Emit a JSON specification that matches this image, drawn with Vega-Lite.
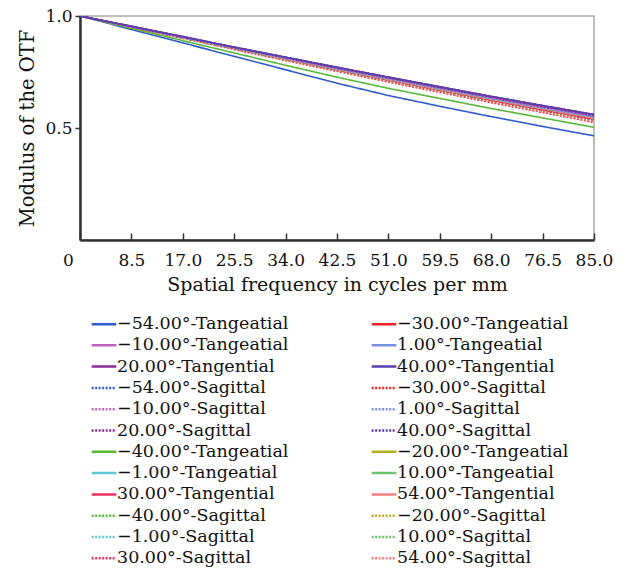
{
  "$schema": "https://vega.github.io/schema/vega-lite/v6.json",
  "width": 514,
  "height": 224,
  "autosize": {"type": "none"},
  "padding": {"left": 80, "top": 16, "right": 35, "bottom": 331},
  "background": "white",
  "config": {"font": "DejaVu Serif", "view": {"stroke": "#a8a8a8", "strokeWidth": 1.5}},
  "data": {"values": [
    {"s":"−54.00°-Tangeatial","f":0,"m":1},{"s":"−54.00°-Tangeatial","f":8.5,"m":0.940},{"s":"−54.00°-Tangeatial","f":17,"m":0.880},{"s":"−54.00°-Tangeatial","f":25.5,"m":0.820},{"s":"−54.00°-Tangeatial","f":34,"m":0.760},{"s":"−54.00°-Tangeatial","f":42.5,"m":0.700},{"s":"−54.00°-Tangeatial","f":51,"m":0.645},{"s":"−54.00°-Tangeatial","f":59.5,"m":0.597},{"s":"−54.00°-Tangeatial","f":68,"m":0.551},{"s":"−54.00°-Tangeatial","f":76.5,"m":0.507},{"s":"−54.00°-Tangeatial","f":85,"m":0.465},
    {"s":"−40.00°-Tangeatial","f":0,"m":1},{"s":"−40.00°-Tangeatial","f":8.5,"m":0.945},{"s":"−40.00°-Tangeatial","f":17,"m":0.890},{"s":"−40.00°-Tangeatial","f":25.5,"m":0.835},{"s":"−40.00°-Tangeatial","f":34,"m":0.780},{"s":"−40.00°-Tangeatial","f":42.5,"m":0.727},{"s":"−40.00°-Tangeatial","f":51,"m":0.677},{"s":"−40.00°-Tangeatial","f":59.5,"m":0.632},{"s":"−40.00°-Tangeatial","f":68,"m":0.587},{"s":"−40.00°-Tangeatial","f":76.5,"m":0.545},{"s":"−40.00°-Tangeatial","f":85,"m":0.503},
    {"s":"−30.00°-Sagittal","f":0,"m":1},{"s":"−30.00°-Sagittal","f":8.5,"m":0.950},{"s":"−30.00°-Sagittal","f":17,"m":0.900},{"s":"−30.00°-Sagittal","f":25.5,"m":0.850},{"s":"−30.00°-Sagittal","f":34,"m":0.801},{"s":"−30.00°-Sagittal","f":42.5,"m":0.753},{"s":"−30.00°-Sagittal","f":51,"m":0.705},{"s":"−30.00°-Sagittal","f":59.5,"m":0.659},{"s":"−30.00°-Sagittal","f":68,"m":0.613},{"s":"−30.00°-Sagittal","f":76.5,"m":0.569},{"s":"−30.00°-Sagittal","f":85,"m":0.525},
    {"s":"54.00°-Sagittal","f":0,"m":1},{"s":"54.00°-Sagittal","f":8.5,"m":0.951},{"s":"54.00°-Sagittal","f":17,"m":0.901},{"s":"54.00°-Sagittal","f":25.5,"m":0.852},{"s":"54.00°-Sagittal","f":34,"m":0.804},{"s":"54.00°-Sagittal","f":42.5,"m":0.756},{"s":"54.00°-Sagittal","f":51,"m":0.709},{"s":"54.00°-Sagittal","f":59.5,"m":0.663},{"s":"54.00°-Sagittal","f":68,"m":0.617},{"s":"54.00°-Sagittal","f":76.5,"m":0.573},{"s":"54.00°-Sagittal","f":85,"m":0.530},
    {"s":"−40.00°-Sagittal","f":0,"m":1},{"s":"−40.00°-Sagittal","f":8.5,"m":0.951},{"s":"−40.00°-Sagittal","f":17,"m":0.902},{"s":"−40.00°-Sagittal","f":25.5,"m":0.854},{"s":"−40.00°-Sagittal","f":34,"m":0.806},{"s":"−40.00°-Sagittal","f":42.5,"m":0.758},{"s":"−40.00°-Sagittal","f":51,"m":0.712},{"s":"−40.00°-Sagittal","f":59.5,"m":0.666},{"s":"−40.00°-Sagittal","f":68,"m":0.621},{"s":"−40.00°-Sagittal","f":76.5,"m":0.578},{"s":"−40.00°-Sagittal","f":85,"m":0.535},
    {"s":"30.00°-Sagittal","f":0,"m":1},{"s":"30.00°-Sagittal","f":8.5,"m":0.951},{"s":"30.00°-Sagittal","f":17,"m":0.902},{"s":"30.00°-Sagittal","f":25.5,"m":0.854},{"s":"30.00°-Sagittal","f":34,"m":0.806},{"s":"30.00°-Sagittal","f":42.5,"m":0.758},{"s":"30.00°-Sagittal","f":51,"m":0.712},{"s":"30.00°-Sagittal","f":59.5,"m":0.666},{"s":"30.00°-Sagittal","f":68,"m":0.621},{"s":"30.00°-Sagittal","f":76.5,"m":0.578},{"s":"30.00°-Sagittal","f":85,"m":0.535},
    {"s":"−30.00°-Tangeatial","f":0,"m":1},{"s":"−30.00°-Tangeatial","f":8.5,"m":0.952},{"s":"−30.00°-Tangeatial","f":17,"m":0.903},{"s":"−30.00°-Tangeatial","f":25.5,"m":0.855},{"s":"−30.00°-Tangeatial","f":34,"m":0.808},{"s":"−30.00°-Tangeatial","f":42.5,"m":0.761},{"s":"−30.00°-Tangeatial","f":51,"m":0.715},{"s":"−30.00°-Tangeatial","f":59.5,"m":0.670},{"s":"−30.00°-Tangeatial","f":68,"m":0.625},{"s":"−30.00°-Tangeatial","f":76.5,"m":0.582},{"s":"−30.00°-Tangeatial","f":85,"m":0.540},
    {"s":"−20.00°-Sagittal","f":0,"m":1},{"s":"−20.00°-Sagittal","f":8.5,"m":0.952},{"s":"−20.00°-Sagittal","f":17,"m":0.903},{"s":"−20.00°-Sagittal","f":25.5,"m":0.855},{"s":"−20.00°-Sagittal","f":34,"m":0.808},{"s":"−20.00°-Sagittal","f":42.5,"m":0.761},{"s":"−20.00°-Sagittal","f":51,"m":0.715},{"s":"−20.00°-Sagittal","f":59.5,"m":0.670},{"s":"−20.00°-Sagittal","f":68,"m":0.625},{"s":"−20.00°-Sagittal","f":76.5,"m":0.582},{"s":"−20.00°-Sagittal","f":85,"m":0.540},
    {"s":"10.00°-Sagittal","f":0,"m":1},{"s":"10.00°-Sagittal","f":8.5,"m":0.952},{"s":"10.00°-Sagittal","f":17,"m":0.903},{"s":"10.00°-Sagittal","f":25.5,"m":0.855},{"s":"10.00°-Sagittal","f":34,"m":0.808},{"s":"10.00°-Sagittal","f":42.5,"m":0.761},{"s":"10.00°-Sagittal","f":51,"m":0.715},{"s":"10.00°-Sagittal","f":59.5,"m":0.670},{"s":"10.00°-Sagittal","f":68,"m":0.625},{"s":"10.00°-Sagittal","f":76.5,"m":0.582},{"s":"10.00°-Sagittal","f":85,"m":0.540},
    {"s":"30.00°-Tangential","f":0,"m":1},{"s":"30.00°-Tangential","f":8.5,"m":0.952},{"s":"30.00°-Tangential","f":17,"m":0.903},{"s":"30.00°-Tangential","f":25.5,"m":0.855},{"s":"30.00°-Tangential","f":34,"m":0.808},{"s":"30.00°-Tangential","f":42.5,"m":0.761},{"s":"30.00°-Tangential","f":51,"m":0.715},{"s":"30.00°-Tangential","f":59.5,"m":0.670},{"s":"30.00°-Tangential","f":68,"m":0.625},{"s":"30.00°-Tangential","f":76.5,"m":0.582},{"s":"30.00°-Tangential","f":85,"m":0.540},
    {"s":"−20.00°-Tangeatial","f":0,"m":1},{"s":"−20.00°-Tangeatial","f":8.5,"m":0.952},{"s":"−20.00°-Tangeatial","f":17,"m":0.904},{"s":"−20.00°-Tangeatial","f":25.5,"m":0.857},{"s":"−20.00°-Tangeatial","f":34,"m":0.810},{"s":"−20.00°-Tangeatial","f":42.5,"m":0.763},{"s":"−20.00°-Tangeatial","f":51,"m":0.718},{"s":"−20.00°-Tangeatial","f":59.5,"m":0.673},{"s":"−20.00°-Tangeatial","f":68,"m":0.629},{"s":"−20.00°-Tangeatial","f":76.5,"m":0.587},{"s":"−20.00°-Tangeatial","f":85,"m":0.545},
    {"s":"−1.00°-Sagittal","f":0,"m":1},{"s":"−1.00°-Sagittal","f":8.5,"m":0.952},{"s":"−1.00°-Sagittal","f":17,"m":0.904},{"s":"−1.00°-Sagittal","f":25.5,"m":0.857},{"s":"−1.00°-Sagittal","f":34,"m":0.810},{"s":"−1.00°-Sagittal","f":42.5,"m":0.763},{"s":"−1.00°-Sagittal","f":51,"m":0.718},{"s":"−1.00°-Sagittal","f":59.5,"m":0.673},{"s":"−1.00°-Sagittal","f":68,"m":0.629},{"s":"−1.00°-Sagittal","f":76.5,"m":0.587},{"s":"−1.00°-Sagittal","f":85,"m":0.545},
    {"s":"1.00°-Sagittal","f":0,"m":1},{"s":"1.00°-Sagittal","f":8.5,"m":0.952},{"s":"1.00°-Sagittal","f":17,"m":0.904},{"s":"1.00°-Sagittal","f":25.5,"m":0.857},{"s":"1.00°-Sagittal","f":34,"m":0.810},{"s":"1.00°-Sagittal","f":42.5,"m":0.763},{"s":"1.00°-Sagittal","f":51,"m":0.718},{"s":"1.00°-Sagittal","f":59.5,"m":0.673},{"s":"1.00°-Sagittal","f":68,"m":0.629},{"s":"1.00°-Sagittal","f":76.5,"m":0.587},{"s":"1.00°-Sagittal","f":85,"m":0.545},
    {"s":"10.00°-Tangeatial","f":0,"m":1},{"s":"10.00°-Tangeatial","f":8.5,"m":0.952},{"s":"10.00°-Tangeatial","f":17,"m":0.904},{"s":"10.00°-Tangeatial","f":25.5,"m":0.857},{"s":"10.00°-Tangeatial","f":34,"m":0.810},{"s":"10.00°-Tangeatial","f":42.5,"m":0.763},{"s":"10.00°-Tangeatial","f":51,"m":0.718},{"s":"10.00°-Tangeatial","f":59.5,"m":0.673},{"s":"10.00°-Tangeatial","f":68,"m":0.629},{"s":"10.00°-Tangeatial","f":76.5,"m":0.587},{"s":"10.00°-Tangeatial","f":85,"m":0.545},
    {"s":"54.00°-Tangential","f":0,"m":1},{"s":"54.00°-Tangential","f":8.5,"m":0.952},{"s":"54.00°-Tangential","f":17,"m":0.904},{"s":"54.00°-Tangential","f":25.5,"m":0.857},{"s":"54.00°-Tangential","f":34,"m":0.810},{"s":"54.00°-Tangential","f":42.5,"m":0.763},{"s":"54.00°-Tangential","f":51,"m":0.718},{"s":"54.00°-Tangential","f":59.5,"m":0.673},{"s":"54.00°-Tangential","f":68,"m":0.629},{"s":"54.00°-Tangential","f":76.5,"m":0.587},{"s":"54.00°-Tangential","f":85,"m":0.545},
    {"s":"−54.00°-Sagittal","f":0,"m":1},{"s":"−54.00°-Sagittal","f":8.5,"m":0.953},{"s":"−54.00°-Sagittal","f":17,"m":0.905},{"s":"−54.00°-Sagittal","f":25.5,"m":0.858},{"s":"−54.00°-Sagittal","f":34,"m":0.812},{"s":"−54.00°-Sagittal","f":42.5,"m":0.766},{"s":"−54.00°-Sagittal","f":51,"m":0.721},{"s":"−54.00°-Sagittal","f":59.5,"m":0.677},{"s":"−54.00°-Sagittal","f":68,"m":0.633},{"s":"−54.00°-Sagittal","f":76.5,"m":0.591},{"s":"−54.00°-Sagittal","f":85,"m":0.550},
    {"s":"−10.00°-Sagittal","f":0,"m":1},{"s":"−10.00°-Sagittal","f":8.5,"m":0.953},{"s":"−10.00°-Sagittal","f":17,"m":0.905},{"s":"−10.00°-Sagittal","f":25.5,"m":0.858},{"s":"−10.00°-Sagittal","f":34,"m":0.812},{"s":"−10.00°-Sagittal","f":42.5,"m":0.766},{"s":"−10.00°-Sagittal","f":51,"m":0.721},{"s":"−10.00°-Sagittal","f":59.5,"m":0.677},{"s":"−10.00°-Sagittal","f":68,"m":0.633},{"s":"−10.00°-Sagittal","f":76.5,"m":0.591},{"s":"−10.00°-Sagittal","f":85,"m":0.550},
    {"s":"−1.00°-Tangeatial","f":0,"m":1},{"s":"−1.00°-Tangeatial","f":8.5,"m":0.953},{"s":"−1.00°-Tangeatial","f":17,"m":0.905},{"s":"−1.00°-Tangeatial","f":25.5,"m":0.858},{"s":"−1.00°-Tangeatial","f":34,"m":0.812},{"s":"−1.00°-Tangeatial","f":42.5,"m":0.766},{"s":"−1.00°-Tangeatial","f":51,"m":0.721},{"s":"−1.00°-Tangeatial","f":59.5,"m":0.677},{"s":"−1.00°-Tangeatial","f":68,"m":0.633},{"s":"−1.00°-Tangeatial","f":76.5,"m":0.591},{"s":"−1.00°-Tangeatial","f":85,"m":0.550},
    {"s":"1.00°-Tangeatial","f":0,"m":1},{"s":"1.00°-Tangeatial","f":8.5,"m":0.953},{"s":"1.00°-Tangeatial","f":17,"m":0.905},{"s":"1.00°-Tangeatial","f":25.5,"m":0.858},{"s":"1.00°-Tangeatial","f":34,"m":0.812},{"s":"1.00°-Tangeatial","f":42.5,"m":0.766},{"s":"1.00°-Tangeatial","f":51,"m":0.721},{"s":"1.00°-Tangeatial","f":59.5,"m":0.677},{"s":"1.00°-Tangeatial","f":68,"m":0.633},{"s":"1.00°-Tangeatial","f":76.5,"m":0.591},{"s":"1.00°-Tangeatial","f":85,"m":0.550},
    {"s":"−10.00°-Tangeatial","f":0,"m":1},{"s":"−10.00°-Tangeatial","f":8.5,"m":0.953},{"s":"−10.00°-Tangeatial","f":17,"m":0.906},{"s":"−10.00°-Tangeatial","f":25.5,"m":0.860},{"s":"−10.00°-Tangeatial","f":34,"m":0.814},{"s":"−10.00°-Tangeatial","f":42.5,"m":0.768},{"s":"−10.00°-Tangeatial","f":51,"m":0.724},{"s":"−10.00°-Tangeatial","f":59.5,"m":0.680},{"s":"−10.00°-Tangeatial","f":68,"m":0.637},{"s":"−10.00°-Tangeatial","f":76.5,"m":0.595},{"s":"−10.00°-Tangeatial","f":85,"m":0.555},
    {"s":"20.00°-Sagittal","f":0,"m":1},{"s":"20.00°-Sagittal","f":8.5,"m":0.953},{"s":"20.00°-Sagittal","f":17,"m":0.906},{"s":"20.00°-Sagittal","f":25.5,"m":0.860},{"s":"20.00°-Sagittal","f":34,"m":0.814},{"s":"20.00°-Sagittal","f":42.5,"m":0.768},{"s":"20.00°-Sagittal","f":51,"m":0.724},{"s":"20.00°-Sagittal","f":59.5,"m":0.680},{"s":"20.00°-Sagittal","f":68,"m":0.637},{"s":"20.00°-Sagittal","f":76.5,"m":0.595},{"s":"20.00°-Sagittal","f":85,"m":0.555},
    {"s":"20.00°-Tangential","f":0,"m":1},{"s":"20.00°-Tangential","f":8.5,"m":0.954},{"s":"20.00°-Tangential","f":17,"m":0.908},{"s":"20.00°-Tangential","f":25.5,"m":0.861},{"s":"20.00°-Tangential","f":34,"m":0.816},{"s":"20.00°-Tangential","f":42.5,"m":0.771},{"s":"20.00°-Tangential","f":51,"m":0.727},{"s":"20.00°-Tangential","f":59.5,"m":0.684},{"s":"20.00°-Tangential","f":68,"m":0.641},{"s":"20.00°-Tangential","f":76.5,"m":0.600},{"s":"20.00°-Tangential","f":85,"m":0.560},
    {"s":"40.00°-Tangential","f":0,"m":1},{"s":"40.00°-Tangential","f":8.5,"m":0.954},{"s":"40.00°-Tangential","f":17,"m":0.908},{"s":"40.00°-Tangential","f":25.5,"m":0.861},{"s":"40.00°-Tangential","f":34,"m":0.816},{"s":"40.00°-Tangential","f":42.5,"m":0.771},{"s":"40.00°-Tangential","f":51,"m":0.727},{"s":"40.00°-Tangential","f":59.5,"m":0.684},{"s":"40.00°-Tangential","f":68,"m":0.641},{"s":"40.00°-Tangential","f":76.5,"m":0.600},{"s":"40.00°-Tangential","f":85,"m":0.560},
    {"s":"40.00°-Sagittal","f":0,"m":1},{"s":"40.00°-Sagittal","f":8.5,"m":0.954},{"s":"40.00°-Sagittal","f":17,"m":0.908},{"s":"40.00°-Sagittal","f":25.5,"m":0.861},{"s":"40.00°-Sagittal","f":34,"m":0.816},{"s":"40.00°-Sagittal","f":42.5,"m":0.771},{"s":"40.00°-Sagittal","f":51,"m":0.727},{"s":"40.00°-Sagittal","f":59.5,"m":0.684},{"s":"40.00°-Sagittal","f":68,"m":0.641},{"s":"40.00°-Sagittal","f":76.5,"m":0.600},{"s":"40.00°-Sagittal","f":85,"m":0.560}
  ]},
  "mark": {"type": "line", "strokeWidth": 1.6, "clip": true},
  "encoding": {
    "x": {
      "field": "f", "type": "quantitative",
      "scale": {"domain": [0, 85], "nice": false, "zero": false},
      "axis": {
        "values": [0, 8.5, 17, 25.5, 34, 42.5, 51, 59.5, 68, 76.5, 85],
        "labelExpr": "datum.value == 0 ? '0' : format(datum.value, '.1f')",
        "title": "Spatial frequency in cycles per mm",
        "grid": false,
        "domainColor": "#333333", "domainWidth": 2.5,
        "tickColor": "#333333", "tickWidth": 1.5, "tickSize": -7,
        "labelFontSize": 17, "labelColor": "#111111", "labelPadding": 19,
        "labelFlush": false, "labelOverlap": false,
        "labelOffset": {"condition": {"test": "datum.value == 0", "value": -12}, "value": 0},
        "titleFontSize": 19, "titleFontWeight": "normal", "titleColor": "#111111", "titlePadding": 7
      }
    },
    "y": {
      "field": "m", "type": "quantitative",
      "scale": {"domain": [0, 1], "nice": false},
      "axis": {
        "values": [0.5, 1],
        "format": ".1f",
        "title": "Modulus of the OTF",
        "grid": false,
        "domainColor": "#333333", "domainWidth": 2.5,
        "tickColor": "#333333", "tickWidth": 1.5, "tickSize": 5,
        "labelFontSize": 17, "labelColor": "#111111", "labelPadding": 3,
        "labelFlush": false,
        "titleFontSize": 19.5, "titleFontWeight": "normal", "titleColor": "#111111", "titlePadding": 7
      }
    },
    "color": {
      "field": "s", "type": "nominal",
      "scale": {
        "domain": ["−54.00°-Tangeatial","−10.00°-Tangeatial","20.00°-Tangential","−54.00°-Sagittal","−10.00°-Sagittal","20.00°-Sagittal","−40.00°-Tangeatial","−1.00°-Tangeatial","30.00°-Tangential","−40.00°-Sagittal","−1.00°-Sagittal","30.00°-Sagittal","−30.00°-Tangeatial","1.00°-Tangeatial","40.00°-Tangential","−30.00°-Sagittal","1.00°-Sagittal","40.00°-Sagittal","−20.00°-Tangeatial","10.00°-Tangeatial","54.00°-Tangential","−20.00°-Sagittal","10.00°-Sagittal","54.00°-Sagittal"],
        "range": ["#2e5cc8","#c063c0","#8a2d95","#2e5cc8","#c063c0","#8a2d95","#58b83a","#5cc8d8","#ee3060","#58b83a","#5cc8d8","#ee3060","#ee2222","#7a8fe0","#5a3fae","#ee2222","#7a8fe0","#5a3fae","#b5b020","#6cc46c","#f28080","#b5b020","#6cc46c","#f28080"]
      },
      "legend": {
        "orient": "none", "legendX": 13, "legendY": 297, "columns": 2, "title": null,
        "symbolType": "M-1.3,0L1.3,0", "symbolSize": 361, "symbolStrokeWidth": 2.5,
        "labelFontSize": 17.5, "labelColor": "#111111", "labelOffset": 2, "labelLimit": 300,
        "rowPadding": 1.3, "columnPadding": 77
      }
    },
    "strokeDash": {
      "field": "s", "type": "nominal",
      "scale": {
        "domain": ["−54.00°-Tangeatial","−10.00°-Tangeatial","20.00°-Tangential","−54.00°-Sagittal","−10.00°-Sagittal","20.00°-Sagittal","−40.00°-Tangeatial","−1.00°-Tangeatial","30.00°-Tangential","−40.00°-Sagittal","−1.00°-Sagittal","30.00°-Sagittal","−30.00°-Tangeatial","1.00°-Tangeatial","40.00°-Tangential","−30.00°-Sagittal","1.00°-Sagittal","40.00°-Sagittal","−20.00°-Tangeatial","10.00°-Tangeatial","54.00°-Tangential","−20.00°-Sagittal","10.00°-Sagittal","54.00°-Sagittal"],
        "range": [[1,0],[1,0],[1,0],[2,1.5],[2,1.5],[2,1.5],[1,0],[1,0],[1,0],[2,1.5],[2,1.5],[2,1.5],[1,0],[1,0],[1,0],[2,1.5],[2,1.5],[2,1.5],[1,0],[1,0],[1,0],[2,1.5],[2,1.5],[2,1.5]]
      },
      "legend": {
        "orient": "none", "legendX": 13, "legendY": 297, "columns": 2, "title": null,
        "symbolType": "M-1.3,0L1.3,0", "symbolSize": 361, "symbolStrokeWidth": 2.5,
        "labelFontSize": 17.5, "labelColor": "#111111", "labelOffset": 2, "labelLimit": 300,
        "rowPadding": 1.3, "columnPadding": 77
      }
    }
  }
}
